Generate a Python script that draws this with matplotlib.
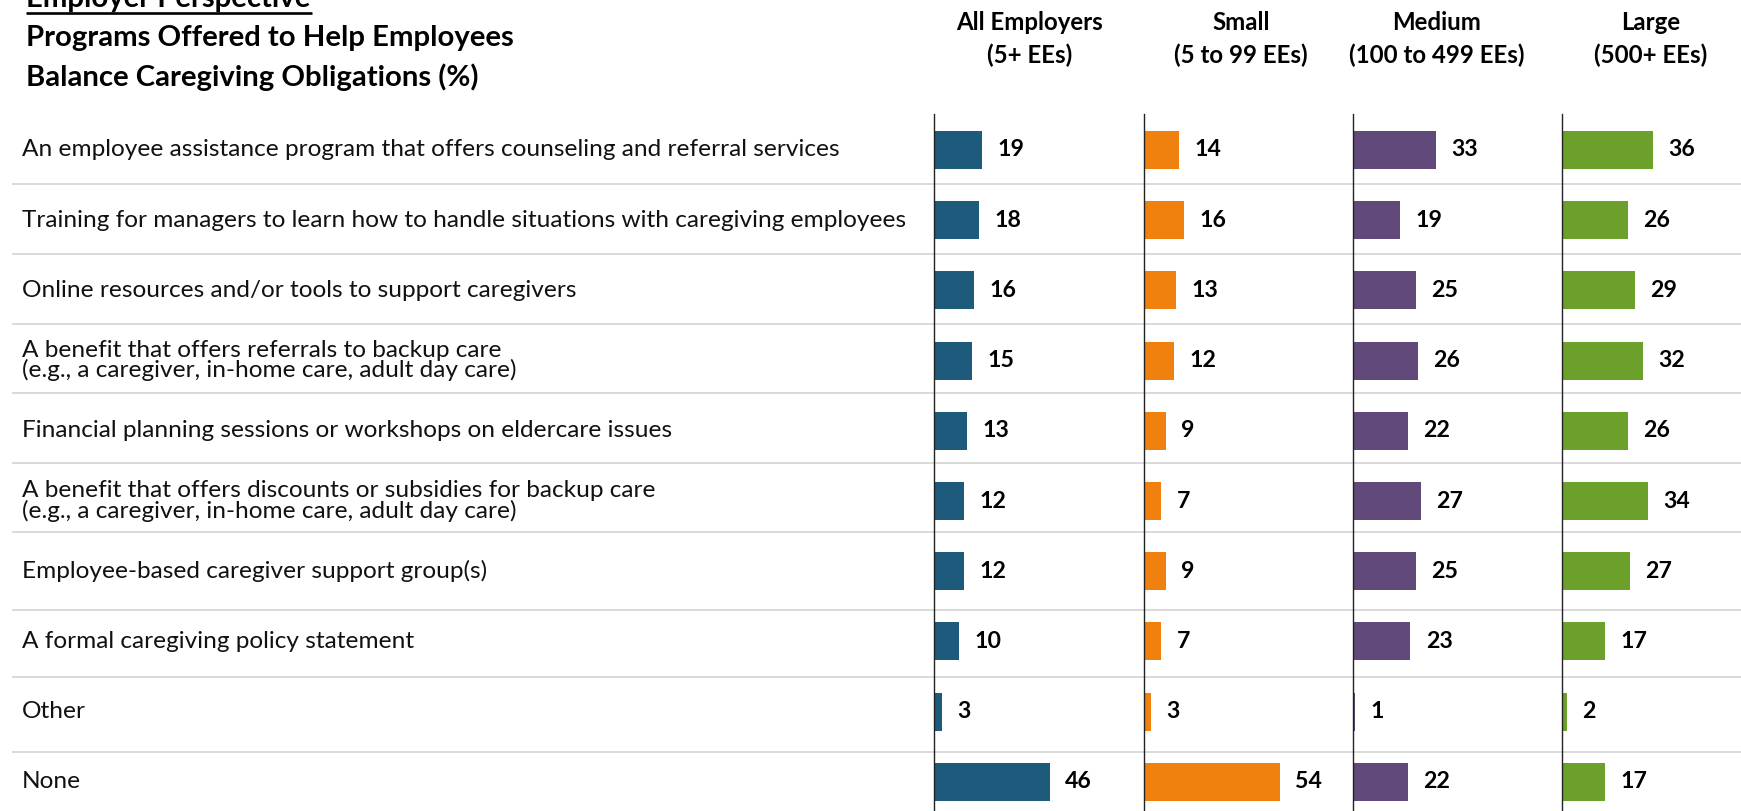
import matplotlib
matplotlib.use('Agg')
import matplotlib.pyplot as plt

plt.rcParams['font.family'] = ['Lato', 'DejaVu Sans']

# ---------------- data ----------------
categories = [
    "An employee assistance program that offers counseling and referral services",
    "Training for managers to learn how to handle situations with caregiving employees",
    "Online resources and/or tools to support caregivers",
    "A benefit that offers referrals to backup care\n(e.g., a caregiver, in-home care, adult day care)",
    "Financial planning sessions or workshops on eldercare issues",
    "A benefit that offers discounts or subsidies for backup care\n(e.g., a caregiver, in-home care, adult day care)",
    "Employee-based caregiver support group(s)",
    "A formal caregiving policy statement",
    "Other",
    "None",
]
all_employers = [19, 18, 16, 15, 13, 12, 12, 10, 3, 46]
small = [14, 16, 13, 12, 9, 7, 9, 7, 3, 54]
medium = [33, 19, 25, 26, 22, 27, 25, 23, 1, 22]
large = [36, 26, 29, 32, 26, 34, 27, 17, 2, 17]
series = [all_employers, small, medium, large]
header_line1 = ["All Employers", "Small", "Medium", "Large"]
header_line2 = ["(5+ EEs)", "(5 to 99 EEs)", "(100 to 499 EEs)", "(500+ EEs)"]
colors = ['#1e5a7b', '#f0810f', '#614979', '#6ba02a']

# ---------------- layout ----------------
W, H = 1741, 811
fig = plt.figure(figsize=(W / 100, H / 100), dpi=100)
renderer = fig.canvas.get_renderer()

row0, step = 150.0, 70.2
n = len(categories)


def rows(px):
    return (px - row0) / step


def fit(t, target):
    w = t.get_window_extent(renderer).width
    t.set_fontsize(t.get_fontsize() * target / w)
    return t.get_fontsize()


# background axes: x in pixels, y in row units
bg = fig.add_axes([0, 0, 1, 1])
bg.set_xlim(0, W)
bg.set_ylim(rows(H), rows(0))
bg.axis('off')

sep_px = [184, 254, 324, 393, 463, 532, 610, 677, 752]
for s in sep_px:
    bg.plot([12, W], [rows(s), rows(s)], color='#d9d9d9', lw=1.4, solid_capstyle='butt', zorder=0)

# category labels
cat_texts = [bg.text(22, i, c, ha='left', va='center', fontsize=15, linespacing=0.9, color='#111111')
             for i, c in enumerate(categories)]
fs = fit(cat_texts[0], 815)
for t in cat_texts:
    t.set_fontsize(fs)

# title
t1 = fig.text(26 / W, 1 - 46 / H, "Programs Offered to Help Employees", fontsize=22,
              fontweight='bold', va='baseline', ha='left', color='#000000')
tfs = fit(t1, 487)
fig.text(26 / W, 1 - 86 / H, "Balance Caregiving Obligations (%)", fontsize=tfs,
         fontweight='bold', va='baseline', ha='left', color='#000000')
fig.text(26 / W, 1 - 7 / H, "Employer Perspective", fontsize=tfs,
         fontweight='bold', va='baseline', ha='left', color='#000000')
bg.plot([26, 312], [rows(13), rows(13)], color='black', lw=1.9, solid_capstyle='butt')

# panels
axis_left = [934, 1143.5, 1352.5, 1562]
header_cx = [1030, 1241, 1437, 1651]
panel_w = 200
px_per_unit = 2.52
hdr = fig.text(header_cx[2] / W, 1 - 55.5 / H, header_line2[2], fontsize=15, fontweight='bold',
               ha='center', va='center')
hfs = fit(hdr, 175)
hdr.remove()

val_fs = None
for k in range(4):
    ax = fig.add_axes([axis_left[k] / W, 0, panel_w / W, (H - 114) / H])
    ax.set_facecolor('none')
    ax.set_xlim(0, panel_w / px_per_unit)
    ax.set_ylim(rows(H), rows(114))
    ax.barh(range(n), series[k], height=0.54, color=colors[k], zorder=2)
    for s in ['top', 'right', 'bottom']:
        ax.spines[s].set_visible(False)
    ax.spines['left'].set_color('#222222')
    ax.spines['left'].set_linewidth(1.0)
    ax.set_xticks([])
    ax.set_yticks([])
    for i, v in enumerate(series[k]):
        lab = ax.annotate(str(v), (v, i), xytext=(11, 0), textcoords='offset points',
                          ha='left', va='center', fontsize=15, fontweight='bold', color='#000000')
        if val_fs is None:
            val_fs = fit(lab, 27)
        lab.set_fontsize(val_fs)
    fig.text(header_cx[k] / W, 1 - 22 / H, header_line1[k], fontsize=hfs, fontweight='bold',
             ha='center', va='center', color='#000000')
    fig.text(header_cx[k] / W, 1 - 55.5 / H, header_line2[k], fontsize=hfs, fontweight='bold',
             ha='center', va='center', color='#000000')

fig.savefig('out.png', dpi=100)
